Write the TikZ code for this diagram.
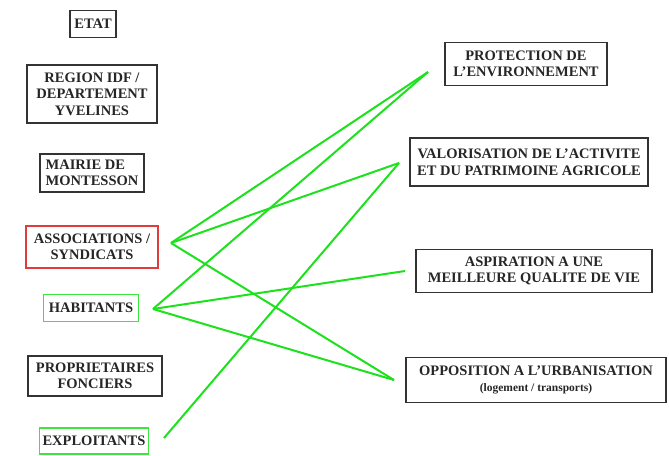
\documentclass[tikz,border=0pt]{standalone}
\usepackage{fontspec}
\setmainfont{Liberation Serif}
\definecolor{lienvert}{RGB}{30,225,30}
\definecolor{cadrerouge}{RGB}{225,60,60}
\definecolor{cadrevert}{RGB}{60,230,60}
\tikzset{
	acteur/.style={draw=black!80, line width=1.6pt, inner sep=2pt, align=center,
		font=\fontsize{14.5}{16.5}\selectfont\bfseries, text=black!85},
	enjeu/.style={acteur},
	lien/.style={lienvert, line width=2pt},
}
\begin{document}
\begin{tikzpicture}[x=1pt, y=-1pt]
	\useasboundingbox (0,0) rectangle (669,455);
	% acteurs
	\node[acteur, minimum width=46, minimum height=27] (etat) at (93,24) {ETAT};
	\node[acteur, minimum width=130, minimum height=58] (region) at (92,94) {REGION IDF /\\DEPARTEMENT\\YVELINES};
	\node[acteur, minimum width=104, minimum height=38, align=left] (mairie) at (92,173) {MAIRIE DE\\MONTESSON};
	\node[acteur, draw=cadrerouge, minimum width=132, minimum height=42] (assoc) at (92,247) {ASSOCIATIONS /\\SYNDICATS};
	\node[acteur, draw=cadrevert, minimum width=95, minimum height=27] (habitants) at (91,308) {HABITANTS};
	\node[acteur, minimum width=134, minimum height=40] (proprio) at (95,376) {PROPRIETAIRES\\FONCIERS};
	\node[acteur, draw=cadrevert, minimum width=109, minimum height=26] (exploit) at (94,441) {EXPLOITANTS};
	% enjeux
	\node[enjeu, minimum width=162, minimum height=43] (protection) at (526,64) {PROTECTION DE\\L'ENVIRONNEMENT};
	\node[enjeu, minimum width=238, minimum height=48] (valorisation) at (529,162) {VALORISATION DE L'ACTIVITE\\ET DU PATRIMOINE AGRICOLE};
	\node[enjeu, minimum width=236, minimum height=43] (aspiration) at (534,271) {ASPIRATION A UNE\\MEILLEURE QUALITE DE VIE};
	\node[enjeu, minimum width=260, minimum height=45] (opposition) at (536,380) {OPPOSITION A L'URBANISATION\\{\fontsize{11.5}{13}\selectfont(logement / transports)}};
	% extremites des liens
	\coordinate (assoc-p) at (171,243);
	\coordinate (habitants-p) at (153,309);
	\coordinate (exploit-p) at (164,438);
	\coordinate (protection-p) at (428,72);
	\coordinate (valorisation-p) at (399,163);
	\coordinate (aspiration-p) at (405,271);
	\coordinate (opposition-p) at (394,380);
	% liens
	\draw[lien] (assoc-p) -- (protection-p);
	\draw[lien] (assoc-p) -- (valorisation-p);
	\draw[lien] (assoc-p) -- (opposition-p);
	\draw[lien] (habitants-p) -- (protection-p);
	\draw[lien] (habitants-p) -- (aspiration-p);
	\draw[lien] (habitants-p) -- (opposition-p);
	\draw[lien] (exploit-p) -- (valorisation-p);
\end{tikzpicture}
\end{document}
